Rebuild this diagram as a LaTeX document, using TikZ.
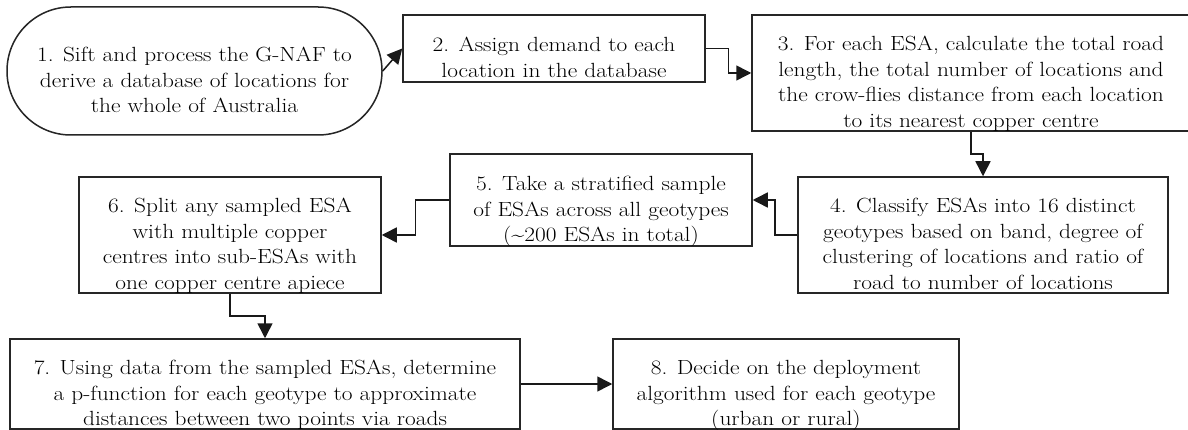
\documentclass[tikz,border=0pt]{standalone}
\usetikzlibrary{arrows.meta,calc}
\newcommand{\wtext}[1]{\raisebox{-11pt}[\height][\depth]{\scalebox{1.14}[1]{\begin{tabular}{@{}c@{}}#1\end{tabular}}}}
\begin{document}
\begin{tikzpicture}[x=1pt,y=-1pt,
  box/.style={draw=black!85, line width=1.5pt, fill=white, align=center, inner sep=0pt,
    font=\fontsize{20.5}{25.5}\selectfont},
  stadium/.style={box, rounded corners=63.9pt},
  conn/.style={draw=black!90, line width=1.5pt, -{Triangle[length=15pt,width=15pt]}}]
\useasboundingbox (0,0) rectangle (1188,430);
\fill[white] (0,0) rectangle (1188,430);

\node[stadium, minimum width=375pt, minimum height=128pt] (n1) at (194.5,71)
  {\wtext{1. Sift and process the G-NAF to\\derive a database of locations for\\the whole of Australia}};
\node[box, minimum width=302pt, minimum height=67pt] (n2) at (554,48.5)
  {\wtext{2. Assign demand to each\\location in the database}};
\node[box, minimum width=438pt, minimum height=116pt] (n3) at (971,73)
  {\wtext{3. For each ESA, calculate the total road\\length, the total number of locations and\\the crow-flies distance from each location\\to its nearest copper centre}};
\node[box, minimum width=370pt, minimum height=116pt] (n4) at (983,235)
  {\wtext{4. Classify ESAs into 16 distinct\\geotypes based on band, degree of\\clustering of locations and ratio of\\road to number of locations}};
\node[box, minimum width=302pt, minimum height=92pt] (n5) at (601,200)
  {\wtext{5. Take a stratified sample\\of ESAs across all geotypes\\(\char`\~200 ESAs in total)}};
\node[box, minimum width=302pt, minimum height=116pt] (n6) at (230,235)
  {\wtext{6. Split any sampled ESA\\with multiple copper\\centres into sub-ESAs with\\one copper centre apiece}};
\node[box, minimum width=510pt, minimum height=90pt] (n7) at (265,384)
  {\wtext{7. Using data from the sampled ESAs, determine\\a p-function for each geotype to approximate\\distances between two points via roads}};
\node[box, minimum width=346pt, minimum height=90pt] (n8) at (786,384)
  {\wtext{8. Decide on the deployment\\algorithm used for each geotype\\(urban or rural)}};

\draw[conn] (n1.east) -- (n2.west);
\draw[conn] (n2.east) -| ($(n2.east)!0.5!(n3.west)$) |- (n3.west);
\draw[conn] (n3.south) |- ($(n3.south)!0.5!(n4.north)$) -| (n4.north);
\draw[conn] (n4.west) -| ($(n4.west)!0.5!(n5.east)$) |- (n5.east);
\draw[conn] (n5.west) -| ($(n5.west)!0.5!(n6.east)$) |- (n6.east);
\draw[conn] (n6.south) |- ($(n6.south)!0.5!(n7.north)$) -| (n7.north);
\draw[conn] (n7.east) -- (n8.west);
\end{tikzpicture}
\end{document}
